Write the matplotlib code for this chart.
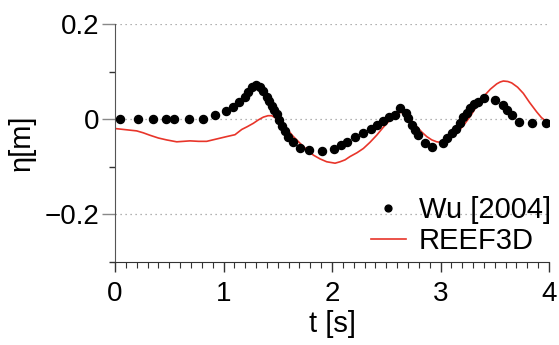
import numpy as np
import matplotlib
matplotlib.use("Agg")
import matplotlib.pyplot as plt
from matplotlib.ticker import MultipleLocator, FixedLocator

# Measured data, Wu [2004]
t_wu = [0.046, 0.215, 0.347, 0.47, 0.544, 0.685, 0.814, 0.924, 1.023, 1.090,
        1.146, 1.198, 1.229, 1.260, 1.300, 1.336, 1.367, 1.398, 1.422, 1.444,
        1.465, 1.490, 1.514, 1.536, 1.567, 1.597, 1.643, 1.705, 1.788, 1.905,
        2.018, 2.080, 2.141, 2.212, 2.288, 2.357, 2.418, 2.473, 2.528, 2.583,
        2.627, 2.682, 2.703, 2.735, 2.765, 2.795, 2.857, 2.919, 3.026, 3.057,
        3.103, 3.143, 3.180, 3.210, 3.241, 3.272, 3.309, 3.348, 3.404, 3.502,
        3.573, 3.610, 3.656, 3.726, 3.840, 3.972]
eta_wu = [0.0, 0.0, 0.0, 0.0, 0.0, 0.0, 0.002, 0.010, 0.018, 0.027,
          0.036, 0.047, 0.057, 0.069, 0.072, 0.068, 0.059, 0.048, 0.038, 0.029,
          0.020, 0.012, -0.001, -0.014, -0.025, -0.036, -0.047, -0.059, -0.064, -0.067,
          -0.063, -0.054, -0.047, -0.037, -0.029, -0.021, -0.012, -0.004, 0.005, 0.009,
          0.024, 0.014, 0.003, -0.012, -0.022, -0.033, -0.050, -0.057, -0.050, -0.040,
          -0.029, -0.019, -0.007, 0.005, 0.014, 0.024, 0.033, 0.037, 0.045, 0.040,
          0.031, 0.020, 0.009, -0.005, -0.008, -0.007]

# Numerical result, REEF3D
t_reef = [0.0, 0.2, 0.26, 0.32, 0.40, 0.476, 0.569, 0.63, 0.691, 0.77,
          0.845, 0.937, 1.029, 1.106, 1.168, 1.22, 1.275, 1.32, 1.367, 1.41,
          1.444, 1.49, 1.53, 1.582, 1.64, 1.705, 1.77, 1.828, 1.89, 1.951,
          2.028, 2.074, 2.12, 2.166, 2.23, 2.289, 2.35, 2.412, 2.47, 2.535,
          2.585, 2.627, 2.66, 2.688, 2.73, 2.78, 2.83, 2.873, 2.92, 2.965,
          3.00, 3.041, 3.09, 3.149, 3.21, 3.272, 3.33, 3.395, 3.46, 3.518,
          3.55, 3.579, 3.62, 3.656, 3.71, 3.763, 3.82, 3.886, 3.93, 3.979, 4.0]
eta_reef = [-0.019, -0.024, -0.028, -0.033, -0.039, -0.043, -0.047, -0.046, -0.045, -0.046,
            -0.046, -0.041, -0.036, -0.032, -0.021, -0.015, -0.008, -0.001, 0.005, 0.008,
            0.008, 0.002, -0.007, -0.019, -0.035, -0.050, -0.064, -0.075, -0.083, -0.089,
            -0.092, -0.089, -0.085, -0.078, -0.070, -0.061, -0.048, -0.033, -0.017, -0.001,
            0.010, 0.015, 0.014, 0.009, -0.002, -0.015, -0.027, -0.036, -0.043, -0.047,
            -0.048, -0.045, -0.039, -0.029, -0.013, 0.006, 0.027, 0.048, 0.064, 0.075,
            0.079, 0.081, 0.080, 0.077, 0.068, 0.055, 0.036, 0.016, 0.004, -0.005, -0.006]

plt.rcParams['font.family'] = ['Liberation Sans', 'DejaVu Sans']

fig = plt.figure(figsize=(5.59, 3.45), dpi=100)
ax = fig.add_axes([0.2057, 0.2406, 0.7765, 0.6884])

# dotted grid at the labelled levels
for yg in [0.2, 0.0, -0.2]:
    ax.axhline(yg, color="#999999", linestyle=(0, (1, 3)), linewidth=0.9, zorder=0)

ax.plot(t_wu, eta_wu, linestyle="none", marker="o", markersize=5.8,
        color="black", label="Wu [2004]", zorder=3)
ax.plot(t_reef, eta_reef, color="#e8352a", linewidth=1.2, label="REEF3D", zorder=2)

ax.set_xlim(0, 4)
ax.set_ylim(-0.3, 0.2)

ax.spines["top"].set_visible(False)
ax.spines["right"].set_visible(False)
ax.spines["left"].set_color("#555555")
ax.spines["bottom"].set_color("#333333")

ax.xaxis.set_major_locator(MultipleLocator(1))
ax.xaxis.set_minor_locator(MultipleLocator(0.1))
ax.yaxis.set_major_locator(FixedLocator([-0.2, 0.0, 0.2]))
ax.yaxis.set_minor_locator(FixedLocator([-0.3, -0.1, 0.1]))
ax.set_yticklabels(["\u22120.2", "0", "0.2"])

ax.tick_params(axis="both", which="major", labelsize=20, direction="out")
ax.tick_params(axis="x", which="major", length=7, width=1, color="#333333", pad=7)
ax.tick_params(axis="x", which="minor", length=4, width=0.8, color="#333333")
ax.tick_params(axis="y", which="major", length=9.5, width=1, color="#888888", pad=2)
ax.tick_params(axis="y", which="minor", length=4.5, width=1, color="#333333")

ax.set_xlabel("t [s]", fontsize=21, labelpad=2)
ax.set_ylabel("\u03b7[m]", fontsize=21, labelpad=6)

ax.legend(loc="lower right", bbox_to_anchor=(1.005, 0.03), frameon=False, fontsize=21,
          handlelength=1.2, handletextpad=0.45, labelspacing=0.1, borderaxespad=0.0,
          borderpad=0.0, markerscale=0.85)

plt.savefig("out.png", dpi=100)
